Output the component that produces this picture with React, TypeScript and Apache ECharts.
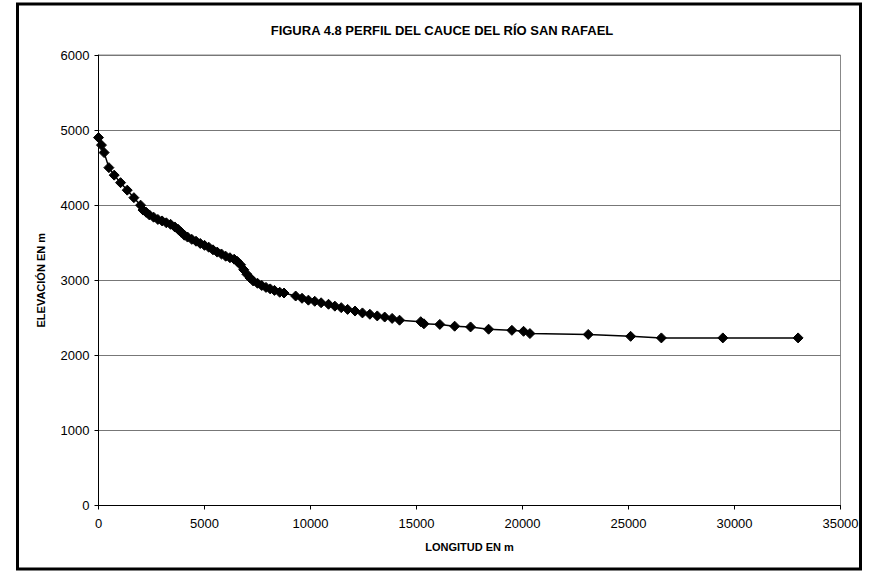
import React, { useEffect, useRef } from "react";
import * as echarts from "echarts";

const TITLE = "FIGURA 4.8 PERFIL DEL CAUCE DEL RÍO SAN RAFAEL";
const X_TITLE = "LONGITUD EN m";
const Y_TITLE = "ELEVACIÓN EN m";

// Distance along the river (m)
const distance = [
  0, 140, 265, 490, 740, 1040, 1355, 1670, 1985,
  2100, 2250, 2400, 2600, 2800, 3000, 3200, 3400, 3600, 3750, 3900,
  4050, 4200, 4400, 4600, 4800, 5000, 5200, 5400, 5600, 5800, 6000,
  6200, 6400, 6550, 6700, 6850, 7000, 7150, 7300, 7500, 7700, 7900,
  8100, 8300, 8550, 8750,
  9300, 9600, 9900, 10200, 10500, 10850, 11150, 11450, 11750, 12100,
  12450, 12800, 13150, 13500, 13850, 14200, 15200, 15350, 16100, 16800,
  17550, 18400, 19500, 20050, 20350, 23100, 25100, 26550, 29450, 33000,
];

// Elevation (m)
const elevation = [
  4900, 4800, 4700, 4500, 4400, 4300, 4200, 4100, 4000,
  3935, 3905, 3870, 3840, 3810, 3790, 3765, 3745, 3710, 3680, 3640,
  3600, 3575, 3545, 3520, 3490, 3465, 3440, 3405, 3375, 3350, 3320,
  3300, 3280, 3250, 3205, 3140, 3080, 3030, 2990, 2960, 2930, 2905,
  2885, 2865, 2840, 2830,
  2790, 2760, 2735, 2720, 2700, 2680, 2655, 2635, 2612, 2590,
  2565, 2547, 2525, 2510, 2492, 2468, 2448, 2420, 2412, 2388,
  2378, 2348, 2333, 2320, 2290, 2278, 2253, 2232, 2232, 2232,
];

const X_MIN = 0;
const X_MAX = 35000;
const X_STEP = 5000;
const Y_MIN = 0;
const Y_MAX = 6000;
const Y_STEP = 1000;

const FONT = "'Liberation Sans', Arial, Helvetica, sans-serif";

export default function App() {
  const ref = useRef<HTMLDivElement>(null);

  useEffect(() => {
    if (!ref.current) return;
    const chart = echarts.init(ref.current, undefined, { renderer: "svg" });
    const data = distance.map((d, i) => [d, elevation[i]]);
    const plain = (v: number) => String(v);
    chart.setOption({
      animation: false,
      backgroundColor: "#ffffff",
      textStyle: { fontFamily: FONT, color: "#000" },
      title: {
        text: TITLE,
        left: 437,
        top: 19,
        textAlign: "center",
        textStyle: { fontFamily: FONT, fontSize: 13, fontWeight: "bold", color: "#000" },
      },
      graphic: [
        {
          type: "rect",
          shape: { x: 17.5, y: 4, width: 843, height: 565 },
          style: { fill: "none", stroke: "#000", lineWidth: 3 },
          silent: true,
          z: 100,
        },
      ],
      grid: {
        left: 98.5,
        right: 31.5,
        top: 55,
        bottom: 67.5,
        show: true,
        borderColor: "#888",
        borderWidth: 1,
        backgroundColor: "#fff",
      },
      xAxis: {
        type: "value",
        min: X_MIN,
        max: X_MAX,
        interval: X_STEP,
        name: X_TITLE,
        nameLocation: "middle",
        nameGap: 36,
        nameTextStyle: { fontFamily: FONT, fontSize: 11, fontWeight: "bold", color: "#000" },
        axisLine: { show: true, lineStyle: { color: "#000", width: 1 } },
        axisTick: { show: true, inside: false, length: 4, lineStyle: { color: "#000" } },
        axisLabel: { fontFamily: FONT, fontSize: 13, color: "#000", margin: 11, formatter: plain },
        splitLine: { show: false },
      },
      yAxis: {
        type: "value",
        min: Y_MIN,
        max: Y_MAX,
        interval: Y_STEP,
        name: Y_TITLE,
        nameLocation: "middle",
        nameGap: 52,
        nameRotate: 90,
        nameTextStyle: { fontFamily: FONT, fontSize: 11, fontWeight: "bold", color: "#000" },
        axisLine: { show: true, lineStyle: { color: "#000", width: 1 } },
        axisTick: { show: true, inside: false, length: 4, lineStyle: { color: "#000" } },
        axisLabel: { fontFamily: FONT, fontSize: 13, color: "#000", margin: 9, formatter: plain },
        splitLine: { show: true, lineStyle: { color: "#777", width: 1 } },
      },
      series: [
        {
          type: "line",
          data,
          symbol: "diamond",
          symbolSize: 10,
          showSymbol: true,
          lineStyle: { color: "#000", width: 1.5 },
          itemStyle: { color: "#000", borderColor: "#000" },
          clip: false,
        },
      ],
    });
    return () => chart.dispose();
  }, []);

  return (
    <div
      ref={ref}
      style={{ position: "absolute", left: 0, top: 0, width: 872, height: 573 }}
    />
  );
}
